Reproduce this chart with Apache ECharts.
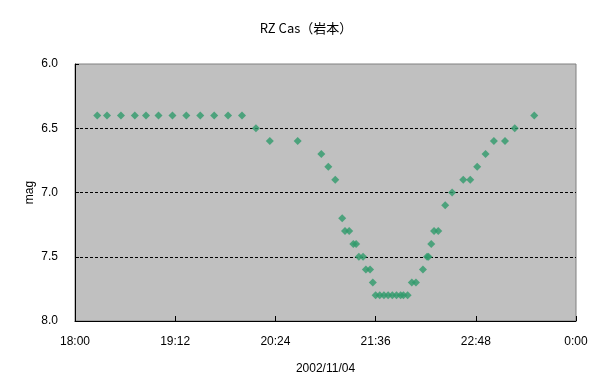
<!DOCTYPE html>
<html>
<head>
<meta charset="utf-8">
<script src="https://cdn.jsdelivr.net/npm/echarts@6/dist/echarts.min.js"></script>
<style>
html,body{margin:0;padding:0;background:#fff;}
#c{width:612px;height:391px;}
</style>
</head>
<body>
<div id="c"></div>
<script>
// Observation times (2002/11/04, local) and magnitudes
var times = ["18:16","18:23","18:33","18:43","18:51","19:00","19:10","19:20","19:30","19:40","19:50","20:00",
  "20:10","20:20","20:40","20:57","21:02","21:07","21:12","21:14","21:17","21:20","21:22","21:24","21:27",
  "21:29","21:32","21:34","21:36","21:39","21:42","21:45","21:48","21:51","21:54","21:56","21:59",
  "22:02","22:05","22:10","22:13","22:14","22:16","22:18","22:21","22:26","22:31","22:39","22:44",
  "22:49","22:55","23:01","23:09","23:16","23:30"];
var mags = [6.4,6.4,6.4,6.4,6.4,6.4,6.4,6.4,6.4,6.4,6.4,6.4,
  6.5,6.6,6.6,6.7,6.8,6.9,7.2,7.3,7.3,7.4,7.4,7.5,7.5,
  7.6,7.6,7.7,7.8,7.8,7.8,7.8,7.8,7.8,7.8,7.8,7.8,
  7.7,7.7,7.6,7.5,7.5,7.4,7.3,7.3,7.1,7.0,6.9,6.9,
  6.8,6.7,6.6,6.6,6.5,6.4];
var xTickLabels = ["18:00","19:12","20:24","21:36","22:48","0:00"];
var yTickLabels = ["6.0","6.5","7.0","7.5","8.0"];

function toMin(t){var p=t.split(":");var h=+p[0];if(h<18)h+=24;return (h-18)*60+(+p[1]);}
var data = times.map(function(t,i){return [toMin(t), mags[i]];});

var font = '"Liberation Sans", Arial, sans-serif';
var chart = echarts.init(document.getElementById('c'));
chart.setOption({
  animation:false,
  title:{text:'RZ Cas（岩本）', left:'center', top:17,
    textStyle:{fontSize:13, fontWeight:'normal', color:'#000', fontFamily:'"Noto Sans CJK JP", ' + font}},
  grid:{left:75, right:36, top:64, bottom:70, show:true, backgroundColor:'#c0c0c0', borderColor:'#808080', borderWidth:1},
  xAxis:{type:'value', min:0, max:360, interval:72,
    name:'2002/11/04', nameLocation:'middle', nameGap:42,
    nameTextStyle:{fontSize:12, color:'#000', fontFamily:font},
    axisLine:{show:true, lineStyle:{color:'#000', width:1}},
    axisTick:{show:true, inside:true, length:5, lineStyle:{color:'#000'}},
    axisLabel:{fontSize:12, color:'#000', margin:15, fontFamily:font,
      formatter:function(v){return xTickLabels[Math.round(v/72)];}},
    splitLine:{show:false}},
  yAxis:{type:'value', inverse:true, min:6, max:8, interval:0.5,
    name:'mag', nameLocation:'middle', nameGap:39, nameRotate:90, nameMoveOverlap:false,
    nameTextStyle:{fontSize:12, color:'#000', fontFamily:font},
    axisLine:{show:true, lineStyle:{color:'#000', width:1}},
    axisTick:{show:true, inside:true, length:4, lineStyle:{color:'#000'}},
    axisLabel:{fontSize:12, color:'#000', margin:17, fontFamily:font,
      formatter:function(v){return yTickLabels[Math.round((v-6)/0.5)];}},
    splitLine:{show:true, showMinLine:false, showMaxLine:false, lineStyle:{color:'#000', type:[3,2], width:1}}},
  series:[{type:'scatter', data:data, symbol:'diamond', symbolSize:8,
    itemStyle:{color:'#2e9a6a'}}]
});
</script>
</body>
</html>
